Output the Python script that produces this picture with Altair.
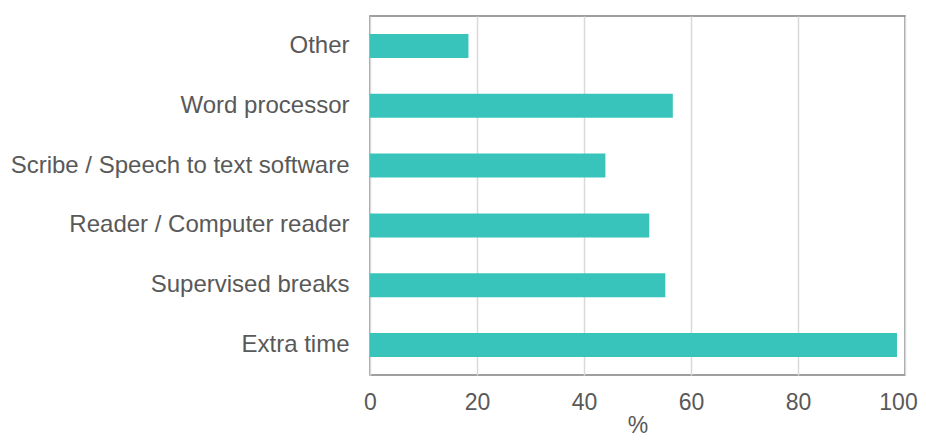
import altair as alt
import pandas as pd

categories = ["Other", "Word processor", "Scribe / Speech to text software",
              "Reader / Computer reader", "Supervised breaks", "Extra time"]
values = [18.4, 56.6, 44.0, 52.2, 55.2, 98.5]

df = pd.DataFrame({"cat": categories, "val": values})

FONT = "Liberation Sans"

chart = alt.Chart(df).mark_bar(color="#38C4BA").encode(
    x=alt.X("val:Q", title="%", scale=alt.Scale(domain=[0, 100], nice=False),
            axis=alt.Axis(values=[0, 20, 40, 60, 80, 100], grid=True, gridColor="#D9D9D9",
                          gridWidth=1.5, domain=False, ticks=False, labelFontSize=23,
                          labelColor="#595959", labelPadding=16, titleFontSize=23,
                          titleColor="#595959", titleFontWeight="normal", titlePadding=0,
                          labelOffset={"expr": "datum.value == 100 ? -7 : 0"},
                          labelFont=FONT, titleFont=FONT, labelFlush=False)),
    y=alt.Y("cat:N", sort=categories, title=None,
            scale=alt.Scale(paddingInner=0.6, paddingOuter=0.3),
            axis=alt.Axis(domain=False, ticks=False, grid=False, labelFontSize=24,
                          labelColor="#595959", labelPadding=21, labelLimit=400,
                          labelFont=FONT)),
).properties(
    width=535, height=359,
    background="white",
    autosize=alt.AutoSizeParams(type="none"),
    padding={"left": 362, "top": 8, "right": 13, "bottom": 61},
).configure_view(
    stroke="#808080", strokeWidth=1.5
)

chart.save("out.html", embed_options={"renderer": "svg", "actions": False})
